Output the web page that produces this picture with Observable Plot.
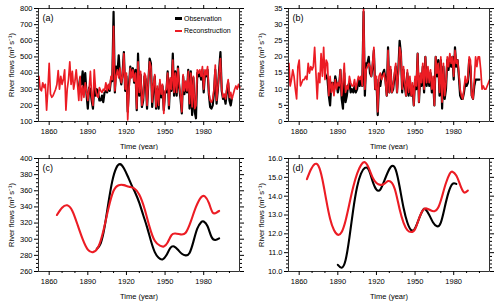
<!DOCTYPE html>
<html><head><meta charset="utf-8">
<script src="https://cdn.jsdelivr.net/npm/d3@7"></script>
<script src="https://cdn.jsdelivr.net/npm/@observablehq/plot@0.6"></script>
<style>
body{margin:0;background:#fff;}
#wrap{position:relative;width:500px;height:301px;font-family:"Liberation Sans",Arial,sans-serif;overflow:hidden;}
.p{position:absolute;}
.leg{position:absolute;font-size:7px;color:#000;line-height:1;}
.leg div{height:12.5px;display:flex;align-items:center;}
.sw{display:inline-block;width:7px;height:2.5px;margin-right:2px;}
</style></head><body><div id="wrap"></div>
<script>
// ---- Tick labels ----
const xMajor = [1860, 1890, 1920, 1950, 1980];
const xMinor = [1870, 1880, 1900, 1910, 1930, 1940, 1960, 1970, 1990, 2000];
const aYTicks = [100, 200, 300, 400, 500, 600, 700, 800];
const bYTicks = [0, 5, 10, 15, 20, 25, 30, 35];
const cYTicks = [260, 280, 300, 320, 340, 360, 380, 400];
const dYTicks = [10, 11, 12, 13, 14, 15, 16];

// ---- Panel (a): annual flows ----
const aRecStart = 1852;
const aRec = [380,300,290,340,310,330,170,300,460,270,
250,260,280,300,330,415,300,380,330,360,
420,170,300,360,470,330,410,300,350,420,
330,230,380,230,320,250,340,290,230,300,
410,260,200,420,300,260,250,310,290,280,
300,290,340,290,330,300,380,360,690,290,
380,420,370,430,340,380,520,300,400,110,
300,430,370,420,350,400,180,470,280,410,
200,250,400,380,200,350,470,440,220,330,
390,190,320,200,360,270,330,150,290,300,
400,200,370,300,480,280,400,280,430,330,
260,160,390,290,350,290,410,210,400,190,
380,180,200,420,400,420,380,440,300,420,
390,440,280,230,220,240,300,450,230,310,
400,490,300,250,270,240,310,360,250,280,
240,270,300,320,300,330,310];
const aObsStart = 1883;
const aObs = [310,370,330,410,300,400,270,180,310,300,
230,180,320,260,300,280,230,230,260,220,
280,290,280,320,290,360,350,780,280,440,
400,510,380,330,400,530,290,380,160,330,
440,380,430,340,420,170,520,260,390,190,
230,380,360,180,340,490,460,190,310,380,
180,300,180,340,250,320,170,280,280,410,
180,360,290,520,260,410,260,440,310,240,
150,380,270,340,280,420,180,410,140,370,
160,120,400,380,400,360,420,280,400,380,
420,270,190,180,200,280,420,210,300,420,
530,290,240,250,210,290,340,230,200,250];

// ---- Panel (b): annual flows ----
const bRecStart = 1852;
const bRec = [18,11,13,16,14,10,7,17,19,11,
12,13,13,14,13,18,15,17,16,17,
23,15,7,15,12,21,14,23,13,19,
18,8,14,9,12,8,13,10,12,11,
16,8,12,18,9,11,10,14,12,11,
11,13,10,12,14,13,14,11,35,10,
16,17,18,17,14,18,23,10,14,3,
14,15,13,14,15,12,8,22,9,17,
9,11,15,18,9,15,23,21,10,17,
12,8,16,9,14,8,12,5,14,11,
21,6,15,12,18,10,20,12,17,12,
16,10,14,5,20,15,18,9,20,6,
18,8,12,20,17,21,18,20,14,22,
18,19,15,10,8,7,10,14,12,13,
20,19,8,7,13,20,17,20,20,16,
10,11,10,10,11,12,13];
const bObsStart = 1880;
const bObs = [15,14,13,8,5,12,12,9,14,12,
9,11,16,7,4,15,6,8,11,12,
9,10,9,11,9,10,13,11,13,11,
34,8,18,18,20,15,14,17,22,10,
13,2,12,11,14,15,16,13,8,23,
9,16,9,10,14,17,9,16,25,21,
9,16,11,8,15,8,13,8,11,5,
13,10,21,6,14,11,17,9,20,11,
16,11,15,9,13,5,20,14,19,8,
19,4,17,7,10,19,16,20,17,20,
13,23,17,19,14,8,7,7,9,12,
11,12,19,17,8,7,11,13,13,13,13];

// ---- Panel (c): smoothed flows ----
const cRecYears = [1866,1870,1874,1878,1882,1886,1890,1894,1898,1902,1906,1910,1914,1918,1922,1926,1930,1934,1938,1942,1946,1949,1952,1955,1958,1962,1966,1970,1974,1978,1981,1984,1987,1990,1992];
const cRec = [330,339,342,335,318,300,287,284,290,310,338,360,367,367,365,363,355,338,315,298,292,291,296,305,307,306,308,322,340,352,353,345,333,333,335];
const cObsYears = [1897,1900,1903,1906,1909,1912,1915,1918,1921,1924,1927,1930,1933,1936,1939,1942,1945,1948,1951,1954,1957,1960,1963,1966,1969,1972,1975,1978,1980,1983,1986,1989,1992];
const cObs = [288,295,315,345,372,388,393,388,378,367,357,345,330,315,298,284,277,275,280,289,291,287,282,280,283,297,313,321,322,316,303,299,301];

// ---- Panel (d): smoothed flows ----
const dRecYears = [1866,1869,1872,1875,1878,1881,1884,1887,1890,1893,1896,1899,1902,1905,1908,1911,1914,1917,1920,1923,1926,1929,1932,1935,1938,1941,1944,1947,1950,1953,1956,1959,1962,1965,1968,1971,1974,1977,1979,1982,1985,1988,1991];
const dRec = [14.9,15.4,15.7,15.6,14.9,13.8,12.8,12.2,11.95,12.1,12.7,13.6,14.5,15.2,15.65,15.8,15.5,15.0,14.7,14.6,14.65,14.8,14.7,14.2,13.3,12.6,12.2,12.1,12.25,12.8,13.25,13.35,13.25,13.2,13.4,14.0,14.7,15.2,15.3,15.1,14.6,14.2,14.3];
const dObsYears = [1890,1893,1896,1899,1902,1905,1908,1911,1914,1917,1920,1923,1926,1929,1932,1935,1938,1941,1944,1947,1950,1953,1956,1958,1961,1964,1967,1970,1973,1976,1979,1982];
const dObs = [10.35,10.2,10.6,11.8,13.3,14.5,15.2,15.5,15.4,14.8,14.35,14.35,14.8,15.3,15.6,15.4,14.5,13.4,12.6,12.2,12.3,12.8,13.25,13.3,13.0,12.6,12.4,12.6,13.4,14.2,14.65,14.65];

const OBS = "#000000", REC = "#ec1c24";
const fromStart = (start, vals) => vals.map((value, i) => ({year: start + i, value}));
const fromPairs = (years, vals) => years.map((year, i) => ({year, value: vals[i]}));

const xDomain = [1851.7, 2007.8];
const blank = () => "";

function panel({obs, rec, yDomain, yMajor, yMinor, yFormat, tag, curve, height}) {
  return Plot.plot({
    width: 250, height,
    marginTop: 8, marginBottom: height - 121, marginLeft: 38, marginRight: 11,
    x: {domain: xDomain},
    y: {domain: yDomain},
    style: {fontFamily: "'Liberation Sans', Arial, sans-serif", fontSize: "7.5px", background: "white", color: "black"},
    marks: [
      Plot.line(obs, {x: "year", y: "value", stroke: OBS, strokeWidth: curve ? 2.1 : 2.2, curve: curve || "linear"}),
      Plot.line(rec, {x: "year", y: "value", stroke: REC, strokeWidth: curve ? 2.1 : 1.7, curve: curve || "linear"}),
      Plot.frame({stroke: "#000", strokeWidth: 0.8}),
      Plot.axisX({anchor: "bottom", ticks: xMajor, tickSize: 4, tickPadding: 3, tickFormat: "d",
        label: "Time (year)", labelAnchor: "center", labelArrow: "none", labelOffset: 27}),
      Plot.axisX({anchor: "bottom", ticks: xMinor, tickSize: 2, tickFormat: blank, label: null}),
      Plot.axisX({anchor: "top", ticks: xMajor, tickSize: 4, tickFormat: blank, label: null}),
      Plot.axisX({anchor: "top", ticks: xMinor, tickSize: 2, tickFormat: blank, label: null}),
      Plot.axisY({anchor: "left", ticks: yMajor, tickSize: 4, tickPadding: 2, tickFormat: yFormat,
        label: "River flows (m³ s⁻¹)", labelAnchor: "center", labelArrow: "none", labelOffset: 30}),
      Plot.axisY({anchor: "left", ticks: yMinor, tickSize: 2, tickFormat: blank, label: null}),
      Plot.axisY({anchor: "right", ticks: yMajor, tickSize: 4, tickFormat: blank, label: null}),
      Plot.axisY({anchor: "right", ticks: yMinor, tickSize: 2, tickFormat: blank, label: null}),
      Plot.text([tag], {frameAnchor: "top-left", text: d => d, dx: 4, dy: 6, fontSize: 9})
    ]
  });
}

const minor = (lo, hi, step, majors) => d3.range(lo, hi + step / 2, step).map(v => +v.toFixed(3)).filter(v => !majors.some(m => Math.abs(m - v) < 1e-6));

const wrap = document.getElementById("wrap");
function place(svg, left, top) {
  svg.classList.add("p");
  svg.style.left = left + "px";
  svg.style.top = top + "px";
  wrap.appendChild(svg);
}

place(panel({obs: fromStart(aObsStart, aObs), rec: fromStart(aRecStart, aRec), yDomain: [100, 800], yMajor: aYTicks,
  yMinor: minor(100, 800, 20, aYTicks), yFormat: "d", tag: "(a)", height: 150}), 0, 0);
place(panel({obs: fromStart(bObsStart, bObs), rec: fromStart(bRecStart, bRec), yDomain: [0, 35], yMajor: bYTicks,
  yMinor: minor(0, 35, 1, bYTicks), yFormat: "d", tag: "(b)", height: 150}), 250, 0);
place(panel({obs: fromPairs(cObsYears, cObs), rec: fromPairs(cRecYears, cRec), yDomain: [260, 400], yMajor: cYTicks,
  yMinor: minor(260, 400, 5, cYTicks), yFormat: "d", tag: "(c)", curve: "natural", height: 151}), 0, 150);
place(panel({obs: fromPairs(dObsYears, dObs), rec: fromPairs(dRecYears, dRec), yDomain: [10, 16], yMajor: dYTicks,
  yMinor: minor(10, 16, 0.2, dYTicks), yFormat: d => d.toFixed(1), tag: "(d)", curve: "natural", height: 151}), 250, 150);

// legend for panel (a)
const leg = document.createElement("div");
leg.className = "leg";
leg.style.left = "175px";
leg.style.top = "12px";
leg.innerHTML = `<div><span class="sw" style="background:${OBS}"></span>Observation</div><div><span class="sw" style="background:${REC}"></span>Reconstruction</div>`;
wrap.appendChild(leg);
</script>
</body></html>
